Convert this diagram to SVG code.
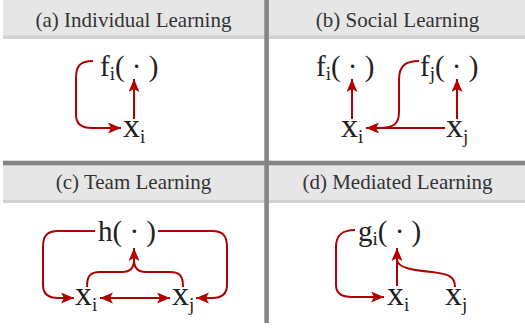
<svg xmlns="http://www.w3.org/2000/svg" width="525" height="328" viewBox="0 0 525 328">
<style>
.hdr{fill:#e6e6e6}
.strip{fill:#d2d2d2}
.div{fill:#858585}
.title{font-family:'Liberation Serif','Times New Roman',serif;font-size:21px;fill:#333;text-anchor:middle}
.m{font-family:'Liberation Serif','Times New Roman',serif;font-size:29px;fill:#222}
.x{font-family:'Liberation Serif','Times New Roman',serif;font-size:34px;fill:#222}
.s{font-size:19px}
.c{fill:none;stroke:#b00000;stroke-width:2}
.a{marker-end:url(#ah)}
</style>
<defs>
<marker id="ah" markerUnits="userSpaceOnUse" markerWidth="14" markerHeight="12" refX="13" refY="5.5" orient="auto-start-reverse">
<path d="M0,0 L13,5.5 L0,11 L3,5.5 Z" fill="#b00000"/>
</marker>
</defs>
<rect x="0" y="0" width="525" height="328" fill="#fff"/>
<g id="headers">
<rect class="hdr" x="3" y="0" width="522" height="36"/>
<rect class="strip" x="3" y="35.5" width="522" height="3.5"/>
<rect class="hdr" x="3" y="165" width="522" height="34.5"/>
<rect class="strip" x="3" y="199.5" width="522" height="3.5"/>
<rect class="div" x="3" y="160.7" width="522" height="4.6"/>
<rect class="div" x="264.3" y="0" width="4.6" height="323"/>
</g>
<g id="titles">
<text class="title" x="133.5" y="27">(a) Individual Learning</text>
<text class="title" x="397.5" y="27">(b) Social Learning</text>
<text class="title" x="133.5" y="189">(c) Team Learning</text>
<text class="title" x="397.5" y="189">(d) Mediated Learning</text>
</g>
<g id="node-a-f"><text class="m" x="100" y="76">f<tspan class="s" dy="4">i</tspan><tspan dy="-4">( · )</tspan></text></g>
<g id="node-a-x"><text class="x" x="123" y="137">x<tspan class="s" dy="6">i</tspan></text></g>
<g id="node-b-fi"><text class="m" x="316" y="76">f<tspan class="s" dy="4">i</tspan><tspan dy="-4">( · )</tspan></text></g>
<g id="node-b-fj"><text class="m" x="420" y="76">f<tspan class="s" dy="4">j</tspan><tspan dy="-4">( · )</tspan></text></g>
<g id="node-b-xi"><text class="x" x="341" y="137">x<tspan class="s" dy="6">i</tspan></text></g>
<g id="node-b-xj"><text class="x" x="446" y="137">x<tspan class="s" dy="6">j</tspan></text></g>
<g id="node-c-h"><text class="m" x="98" y="241">h( · )</text></g>
<g id="node-c-xi"><text class="x" x="75" y="305">x<tspan class="s" dy="6">i</tspan></text></g>
<g id="node-c-xj"><text class="x" x="172" y="305">x<tspan class="s" dy="6">j</tspan></text></g>
<g id="node-d-g"><text class="m" x="358" y="241">g<tspan class="s" dy="4">i</tspan><tspan dy="-4">( · )</tspan></text></g>
<g id="node-d-xi"><text class="x" x="387" y="305">x<tspan class="s" dy="6">i</tspan></text></g>
<g id="node-d-xj"><text class="x" x="445" y="305">x<tspan class="s" dy="6">j</tspan></text></g>
<g id="connectors">
<path class="c a" d="M134,119 L134,79"/>
<path class="c a" d="M93,61 C80,61 76,66 76,78 L76,115 C76,124 81,128 92,128 L121,128"/>
<path class="c a" d="M352,119 L352,79"/>
<path class="c a" d="M457,119 L457,79"/>
<path class="c a" d="M445,128 L366,128"/>
<path class="c" d="M419,61 C405,61 399,66 399,80 L399,112 C399,124 394,128 378,128"/>
<path class="c a" d="M95,231 L58,231 C47,231 43,236 43,247 L43,285 C43,294 48,298 58,298 L74,298"/>
<path class="c a" d="M158,231 L212,231 C223,231 227,236 227,247 L227,285 C227,294 222,298 212,298 L196,298"/>
<path class="c a" d="M100,298 L170,298" style="marker-start:url(#ah)"/>
<path class="c" d="M87,287 C87,276 90,272 100,272 L122,272 C130,272 134,268 134,260"/>
<path class="c a" d="M183,287 C183,276 180,272 170,272 L146,272 C138,272 134,268 134,260 L134,248"/>
<path class="c a" d="M397,286 L397,248"/>
<path class="c a" d="M355,230 C342,230 336,235 336,247 L336,285 C336,293 341,297 352,297 L384,297"/>
<path class="c" d="M455,287 C455,276 448,274 432,272 C412,270 398,268 397,260"/>
</g>
</svg>
